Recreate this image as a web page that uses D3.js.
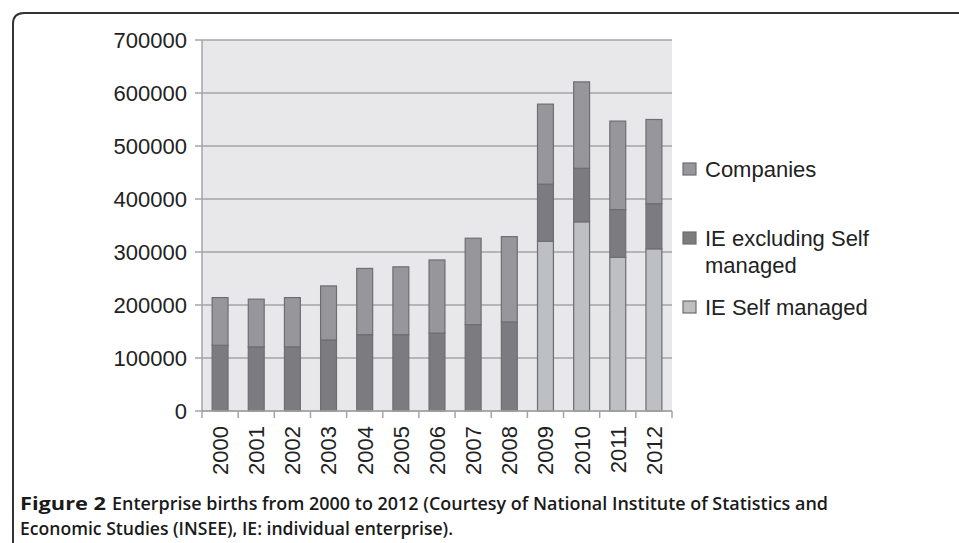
<!DOCTYPE html>
<html>
<head>
<meta charset="utf-8">
<script src="https://cdn.jsdelivr.net/npm/d3@7"></script>
<style>
  body { margin: 0; background: #fff; }
  svg { display: block; }
</style>
</head>
<body>
<div id="chart"></div>
<script>
const years = ["2000", "2001", "2002", "2003", "2004", "2005", "2006", "2007", "2008", "2009", "2010", "2011", "2012"];
const ieSelfManaged = [0, 0, 0, 0, 0, 0, 0, 0, 0, 320000, 357000, 290000, 306000];
const ieExcludingSelf = [124000, 121000, 121000, 134000, 144000, 144000, 147000, 163000, 168000, 108000, 101000, 90000, 85000];
const companies = [90000, 90000, 93000, 102000, 125000, 128000, 138000, 163000, 161000, 151000, 163000, 167000, 159000];
const seriesNames = ["IE Self managed", "IE excluding Self managed", "Companies"];
const yTicks = [0, 100000, 200000, 300000, 400000, 500000, 600000, 700000];
const legendLines = [["Companies"], ["IE excluding Self", "managed"], ["IE Self managed"]];
const captionBold = "Figure 2";
const captionLine1 = "Enterprise births from 2000 to 2012 (Courtesy of National Institute of Statistics and";
const captionLine2 = "Economic Studies (INSEE), IE: individual enterprise).";

const width = 959, height = 543;
const plot = {left: 202, right: 672, top: 40, bottom: 411};
const labelFont = "'Liberation Sans', Arial, sans-serif";
const captionFont = "'Open Sans', 'Noto Sans', sans-serif";

const colours = d3.scaleOrdinal()
    .domain(seriesNames)
    .range(["#bebfc3", "#7c7c80", "#97979b"]);

const svg = d3.select("#chart").append("svg")
    .attr("width", width)
    .attr("height", height);

// frame round the figure
svg.append("path")
    .attr("d", `M13,${height + 5} L13,24 Q13,13 24,13 L${width + 5},13`)
    .attr("fill", "none")
    .attr("stroke", "#333")
    .attr("stroke-width", 2);

const table = years.map((y, i) => ({
    year: y,
    "IE Self managed": ieSelfManaged[i],
    "IE excluding Self managed": ieExcludingSelf[i],
    "Companies": companies[i]
}));
const stacked = d3.stack().keys(seriesNames)(table);

const xAxis = d3.scaleBand()
    .domain(years)
    .range([plot.left, plot.right])
    .paddingInner(0.56)
    .paddingOuter(0.28);

const yAxis = d3.scaleLinear()
    .domain([0, 700000])
    .range([plot.bottom, plot.top]);

// plot background
svg.append("rect")
    .attr("x", plot.left)
    .attr("y", plot.top)
    .attr("width", plot.right - plot.left)
    .attr("height", plot.bottom - plot.top)
    .attr("fill", "#e8e8ea");

// grid lines
svg.append("g")
    .selectAll("line")
    .data(yTicks)
    .join("line")
    .attr("x1", plot.left - 7)
    .attr("x2", plot.right)
    .attr("y1", d => yAxis(d))
    .attr("y2", d => yAxis(d))
    .attr("stroke", "#a5a5a7")
    .attr("stroke-width", 1.5);

// y labels
svg.append("g")
    .selectAll("text")
    .data(yTicks)
    .join("text")
    .attr("x", 187)
    .attr("y", d => yAxis(d))
    .attr("dy", "0.36em")
    .attr("text-anchor", "end")
    .style("font-family", labelFont)
    .style("font-size", "22px")
    .attr("fill", "#222")
    .text(d => d);

// y axis line
svg.append("line")
    .attr("x1", plot.left).attr("x2", plot.left)
    .attr("y1", plot.top).attr("y2", plot.bottom)
    .attr("stroke", "#a5a5a7")
    .attr("stroke-width", 1.5);

// bars
svg.append("g")
    .selectAll("g")
    .data(stacked)
    .join("g")
    .attr("fill", d => colours(d.key))
    .selectAll("rect")
    .data(d => d.filter(s => s[1] > s[0]))
    .join("rect")
    .attr("x", d => xAxis(d.data.year))
    .attr("y", d => yAxis(d[1]))
    .attr("width", xAxis.bandwidth())
    .attr("height", d => yAxis(d[0]) - yAxis(d[1]))
    .attr("stroke", "#6e6e72")
    .attr("stroke-width", 1.2);

// x axis
const step = xAxis.step();
const bandEdges = years.map((y, i) => plot.left + i * step).concat([plot.right]);
svg.append("line")
    .attr("x1", plot.left).attr("x2", plot.right)
    .attr("y1", plot.bottom).attr("y2", plot.bottom)
    .attr("stroke", "#a5a5a7")
    .attr("stroke-width", 1.5);
svg.append("g")
    .selectAll("line")
    .data(bandEdges)
    .join("line")
    .attr("x1", d => d).attr("x2", d => d)
    .attr("y1", plot.bottom).attr("y2", plot.bottom + 7)
    .attr("stroke", "#a5a5a7")
    .attr("stroke-width", 1.5);

svg.append("g")
    .selectAll("text")
    .data(years)
    .join("text")
    .attr("transform", d => `translate(${xAxis(d) + xAxis.bandwidth() / 2}, 426)rotate(-90)`)
    .attr("dy", "0.36em")
    .attr("text-anchor", "end")
    .style("font-family", labelFont)
    .style("font-size", "22px")
    .attr("fill", "#222")
    .text(d => d);

// legend
const legendKeys = ["Companies", "IE excluding Self managed", "IE Self managed"];
const legendY = [177, 246, 315];
const legend = svg.append("g")
    .selectAll("g")
    .data(legendKeys)
    .join("g")
    .attr("transform", (d, i) => `translate(683, ${legendY[i]})`);
legend.append("rect")
    .attr("x", 0)
    .attr("y", -14)
    .attr("width", 13)
    .attr("height", 12)
    .attr("fill", d => colours(d))
    .attr("stroke", "#6e6e72")
    .attr("stroke-width", 1.2);
legend.append("text")
    .attr("x", 22)
    .style("font-family", labelFont)
    .style("font-size", "22px")
    .attr("fill", "#222")
    .selectAll("tspan")
    .data((d, i) => legendLines[i])
    .join("tspan")
    .attr("x", 22)
    .attr("dy", (d, i) => i === 0 ? 0 : 27)
    .text(d => d);

// caption
const caption = svg.append("g")
    .style("font-family", captionFont)
    .style("font-size", "18px")
    .attr("fill", "#1a1a1a");
caption.append("text")
    .attr("x", 20).attr("y", 510)
    .style("font-weight", "bold")
    .attr("textLength", 86)
    .attr("lengthAdjust", "spacingAndGlyphs")
    .text(captionBold);
caption.append("text")
    .attr("x", 112).attr("y", 510)
    .style("font-weight", 600)
    .attr("textLength", 716)
    .attr("lengthAdjust", "spacingAndGlyphs")
    .text(captionLine1);
caption.append("text")
    .attr("x", 20).attr("y", 535)
    .style("font-weight", 600)
    .attr("textLength", 433)
    .attr("lengthAdjust", "spacingAndGlyphs")
    .text(captionLine2);
</script>
</body>
</html>
